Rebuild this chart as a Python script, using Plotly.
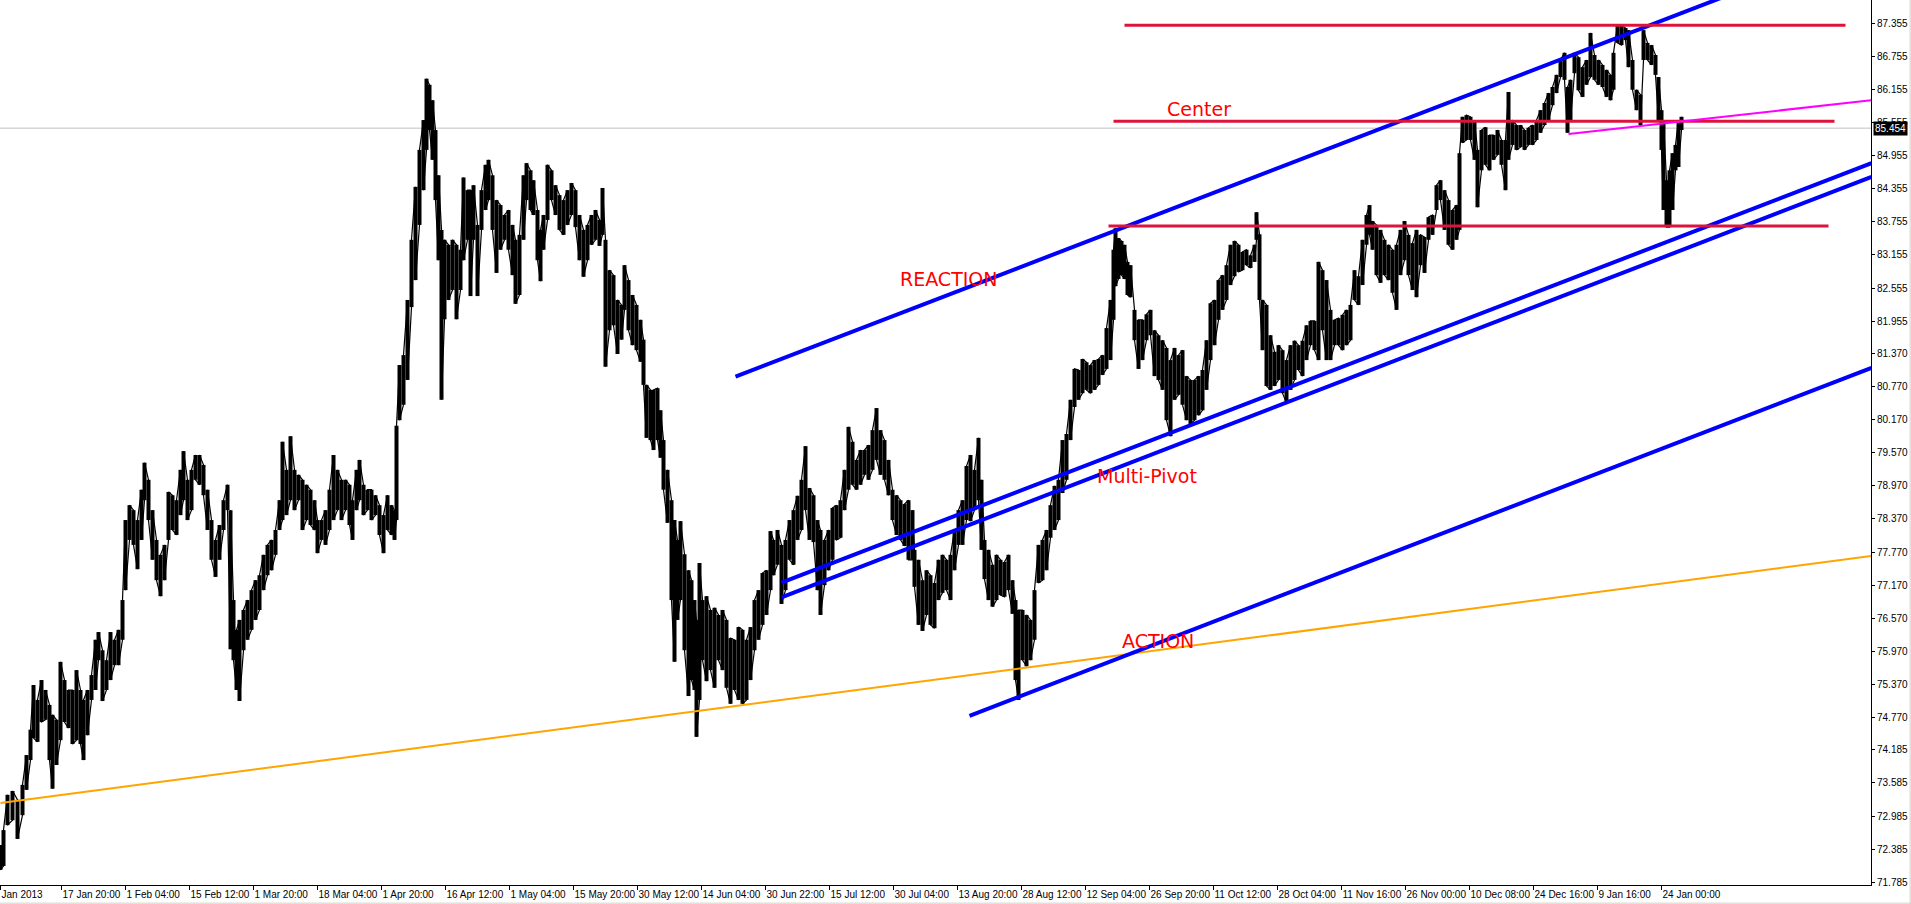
import plotly.graph_objects as go

# ---------------- data ----------------
bar_index = [0,3,7,12,17,22,26,30,33,37,41,45,49,52,56,60,64,68,72,76,
80,83,87,91,95,98,102,106,110,114,118,122,125,129,133,137,141,144,148,152,
156,160,164,168,172,176,180,183,187,191,195,199,203,207,211,215,219,223,227,230,
233,236,239,243,247,251,255,259,263,267,271,275,279,282,286,290,294,298,302,306,
310,314,317,321,325,329,333,337,341,345,349,352,356,359,363,367,371,375,379,383,
387,391,394,396,399,403,407,411,415,419,423,426,429,432,435,438,441,444,448,452,
456,460,463,467,470,473,477,481,485,488,492,496,500,504,508,512,515,519,523,526,
530,533,537,540,543,547,551,555,559,563,567,571,575,579,583,587,591,595,599,602,
605,609,613,617,621,624,628,632,636,640,643,646,650,653,657,660,663,667,671,674,
677,680,684,688,691,694,696,699,702,706,710,714,718,722,726,730,734,738,742,746,
750,754,758,762,766,770,773,777,781,785,789,793,797,801,805,809,813,817,820,824,
828,832,836,840,844,848,852,856,860,864,868,872,876,880,884,888,892,896,900,904,
908,912,914,918,922,926,930,934,938,942,946,950,954,958,962,966,970,974,978,981,
984,988,992,996,1000,1004,1008,1012,1015,1018,1022,1026,1030,1034,1038,1042,1046,1050,1054,1058,
1062,1066,1070,1074,1078,1082,1086,1090,1094,1098,1102,1106,1110,1113,1115,1118,1121,1124,1127,1130,
1134,1138,1142,1146,1150,1154,1158,1162,1166,1170,1174,1178,1182,1186,1190,1194,1198,1202,1206,1210,
1214,1218,1222,1226,1230,1234,1238,1242,1246,1250,1254,1256,1259,1262,1266,1270,1274,1278,1282,1286,
1290,1294,1298,1302,1306,1310,1314,1318,1322,1326,1330,1334,1338,1342,1346,1350,1354,1358,1362,1366,
1369,1372,1376,1380,1384,1388,1392,1396,1400,1404,1408,1412,1416,1420,1424,1428,1432,1436,1440,1444,
1448,1452,1456,1459,1462,1466,1470,1474,1477,1481,1485,1489,1493,1497,1501,1505,1508,1512,1516,1520,
1524,1528,1532,1536,1540,1544,1548,1552,1556,1560,1564,1567,1570,1574,1578,1582,1586,1590,1594,1598,
1602,1606,1610,1613,1617,1621,1625,1628,1632,1636,1640,1643,1647,1651,1655,1658,1661,1663,1666,1669,
1672,1675,1678,1681]

bar_high = [72.46,72.73,73.37,73.44,73.28,73.55,74.09,74.55,75.36,75.09,75.45,75.27,75.00,74.82,74.73,75.78,75.45,75.27,75.27,75.63,
75.27,75.09,75.27,75.54,76.18,76.32,75.99,75.81,76.32,76.18,76.36,76.90,78.35,78.62,78.53,78.35,78.90,79.39,79.08,78.53,
77.99,77.72,77.90,78.86,78.80,78.71,79.26,79.60,79.08,79.26,79.53,79.53,79.35,78.90,78.35,77.99,78.26,78.71,78.99,78.53,
76.90,76.36,76.54,76.72,76.90,77.08,77.26,77.35,77.72,77.90,77.99,78.17,78.71,79.77,79.26,79.87,79.26,79.17,79.08,78.99,
78.90,78.71,78.35,78.35,78.53,78.90,79.53,79.26,79.08,79.08,78.99,78.71,79.26,79.44,78.99,78.90,78.90,78.80,78.62,78.44,
78.80,78.62,78.53,80.06,81.16,81.34,82.34,83.43,84.39,85.06,85.60,86.35,86.24,85.96,85.42,84.60,83.61,83.43,83.34,83.43,
83.34,83.25,84.56,84.33,84.33,84.42,83.70,84.33,84.79,84.88,84.60,84.15,84.06,83.88,83.97,83.70,83.43,83.52,84.60,84.82,
84.69,84.51,83.97,83.61,83.88,84.79,84.69,84.42,84.24,84.15,84.33,84.46,84.33,83.88,83.61,83.70,83.88,83.97,83.79,84.37,
83.43,82.88,82.79,82.34,82.25,82.97,82.70,82.43,82.25,81.98,81.62,80.80,80.71,80.71,80.74,80.34,79.80,79.26,78.71,78.35,
77.99,78.33,77.73,77.44,77.26,76.90,76.54,77.57,76.90,76.97,76.72,76.76,76.63,76.72,76.54,76.21,76.18,76.41,76.36,76.18,
76.41,76.90,77.08,77.39,77.44,78.15,77.99,78.17,77.90,77.99,78.35,78.53,78.79,79.08,79.69,78.93,78.80,78.35,78.17,77.99,
78.17,78.57,78.62,78.71,79.26,80.04,79.77,79.44,79.62,79.62,79.71,79.98,80.38,79.98,79.80,79.44,78.90,78.80,78.71,78.64,
78.71,78.53,77.81,77.63,77.26,77.44,77.35,77.21,77.63,77.72,77.63,77.72,78.17,78.53,78.71,79.33,79.53,79.26,79.84,79.08,
77.99,77.81,77.54,77.72,77.63,77.59,77.72,77.26,76.90,76.72,76.72,76.63,76.54,77.08,77.90,77.99,78.17,78.62,78.97,79.08,
79.80,79.91,80.53,81.09,81.07,81.27,81.21,81.16,81.25,81.27,81.34,81.83,82.34,83.25,83.64,83.46,83.41,83.34,83.03,82.97,
82.16,81.98,81.98,82.08,82.16,81.79,81.70,81.61,81.47,81.25,81.47,81.34,81.43,80.96,80.89,80.89,80.96,81.07,81.61,82.28,
82.34,82.70,82.79,82.97,83.34,83.41,83.34,83.21,83.25,83.15,83.34,83.93,83.53,82.34,82.25,81.70,81.40,81.52,81.43,81.25,
81.52,81.60,81.52,81.60,81.88,81.96,81.96,83.03,82.88,82.70,82.16,81.98,82.01,82.07,82.16,82.25,82.88,82.77,83.43,83.88,
84.06,83.77,83.70,83.61,83.43,83.34,83.25,83.34,83.61,83.77,83.52,83.37,83.61,83.52,83.48,83.84,83.88,84.42,84.51,84.33,
84.15,83.97,84.06,85.00,85.66,85.69,85.66,85.60,85.06,85.42,85.47,85.33,85.33,85.42,85.24,85.24,86.11,85.60,85.51,85.51,
85.42,85.46,85.51,85.60,85.78,85.91,86.09,86.20,86.42,86.69,86.82,86.20,86.33,86.82,86.74,86.56,86.69,87.18,86.78,86.69,
86.60,86.51,86.42,86.82,87.32,87.32,87.27,87.23,86.69,86.15,86.06,87.23,87.00,86.96,86.78,86.38,85.78,85.60,84.51,84.69,
85.00,85.15,85.60,85.66]

bar_low = [72.01,72.08,72.82,72.91,72.57,73.00,73.46,74.00,74.40,74.33,74.69,74.73,74.00,73.48,73.91,74.36,74.69,74.58,74.29,74.36,
74.29,74.00,74.45,75.09,75.27,75.81,75.07,75.27,75.45,75.72,75.72,76.18,77.08,77.99,77.90,77.46,77.99,78.71,78.35,77.63,
77.26,76.97,77.26,77.99,78.17,78.08,78.44,78.71,78.35,78.53,79.08,78.99,78.80,78.17,77.63,77.32,77.63,78.17,78.53,76.01,
75.81,75.27,75.07,75.99,76.18,76.36,76.54,76.72,77.08,77.35,77.44,77.72,78.17,78.35,78.44,78.71,78.53,78.71,78.17,78.35,
78.26,78.17,77.75,77.99,77.90,78.17,78.35,78.53,78.35,78.53,78.26,77.99,78.53,78.71,78.44,78.53,78.35,78.44,78.08,77.75,
78.17,78.08,77.99,78.35,80.16,80.44,80.89,82.21,82.70,83.70,84.33,85.06,85.42,84.88,84.15,83.06,80.53,81.99,82.34,82.52,
81.99,82.52,83.06,83.43,82.41,83.43,82.41,83.61,83.97,84.15,83.61,82.83,83.25,83.43,83.25,82.79,82.27,82.43,83.43,84.15,
83.97,83.88,83.06,82.68,83.25,83.79,84.15,83.88,83.61,83.52,83.70,83.88,83.66,83.06,82.76,83.06,83.34,83.43,83.32,83.52,
81.13,81.79,81.88,81.36,81.62,82.16,81.79,81.52,81.43,81.22,80.80,79.84,79.80,79.62,79.80,79.48,78.90,78.30,76.90,75.78,
76.54,76.90,75.99,75.16,75.45,75.27,74.42,75.09,75.81,75.43,75.63,75.31,75.81,75.63,75.31,75.02,75.27,75.09,75.02,75.09,
75.45,75.99,76.18,76.45,76.63,77.08,77.35,77.54,76.83,77.08,77.63,77.54,77.99,78.17,78.53,77.99,77.95,77.08,76.63,77.17,
77.44,77.63,77.99,78.03,78.53,78.90,78.99,78.90,78.99,79.17,79.08,79.26,79.44,79.17,79.08,78.80,78.35,78.08,77.99,77.88,
77.63,77.63,77.14,76.45,76.34,76.63,76.45,76.39,76.90,77.03,77.08,76.90,77.44,77.90,77.90,78.35,78.33,78.53,78.71,77.81,
77.28,76.90,76.78,76.90,76.99,76.96,77.08,76.65,75.45,75.09,75.81,75.70,75.81,76.18,77.21,77.26,77.44,78.03,78.17,78.35,
78.84,79.08,79.80,80.40,80.53,80.65,80.71,80.65,80.71,80.80,80.98,81.09,81.25,81.98,82.59,82.72,82.79,82.72,82.43,82.39,
81.61,81.09,81.25,81.61,81.70,80.96,80.89,80.71,80.16,79.87,80.53,80.62,80.44,80.16,80.09,80.16,80.25,80.34,80.71,81.25,
81.52,81.98,82.16,82.34,82.61,82.77,82.85,82.88,82.97,82.92,83.03,83.43,82.34,81.43,80.78,80.71,80.78,80.89,80.65,80.47,
80.71,80.89,81.07,80.96,81.25,81.52,81.43,81.25,81.79,81.25,81.25,81.52,81.52,81.43,81.52,81.61,82.34,82.25,82.61,83.34,
83.52,83.25,82.79,82.65,82.79,82.70,82.47,82.16,82.79,83.06,82.79,82.52,82.39,82.97,82.83,83.43,83.52,83.97,84.15,83.61,
83.34,83.25,83.43,83.61,85.19,85.24,85.24,84.88,84.02,84.69,84.79,84.69,84.88,84.97,84.79,84.33,84.88,85.15,85.06,85.11,
85.06,85.15,85.15,85.24,85.37,85.51,85.60,85.87,86.09,86.38,86.33,85.37,85.60,86.45,86.14,86.02,86.24,86.38,86.33,86.24,
86.20,86.02,85.96,86.15,87.00,86.96,87.05,86.56,86.15,85.78,85.51,86.69,86.69,86.60,86.42,85.60,85.06,83.97,83.66,83.66,
83.97,84.69,84.75,85.42]

assert len(bar_index) == len(bar_high) == len(bar_low)

last_price = 85.454

# drawn objects: (bar, price) anchor pairs
channel_upper_bars = [735, 1760];  channel_upper_prices = [80.95, 88.09]
pivot_a_bars = [781, 1871];        pivot_a_prices = [77.215, 84.82]
pivot_b_bars = [781, 1871];        pivot_b_prices = [76.95, 84.57]
channel_lower_bars = [969, 1871];  channel_lower_prices = [74.80, 81.11]
orange_bars = [0, 1871];           orange_prices = [73.22, 77.70]
magenta_bars = [1568, 1871];       magenta_prices = [85.35, 85.96]
red_levels = [87.32, 85.58, 83.68]
red_starts = [1124, 1113, 1108]
red_ends = [1845, 1834, 1828]

label_texts = ["Center", "REACTION", "Multi-Pivot", "ACTION"]
label_bars = [1198, 948, 1146, 1157]
label_prices = [85.80, 82.72, 79.15, 76.16]

tick_bars = [0, 61, 125, 189, 253, 317, 381, 445, 509, 573, 637, 701, 765, 829, 893,
             957, 1021, 1085, 1149, 1213, 1277, 1341, 1405, 1469, 1533, 1597, 1661]
tick_labels = ["Jan 2013", "17 Jan 20:00", "1 Feb 04:00", "15 Feb 12:00", "1 Mar 20:00",
               "18 Mar 04:00", "1 Apr 20:00", "16 Apr 12:00", "1 May 04:00", "15 May 20:00",
               "30 May 12:00", "14 Jun 04:00", "30 Jun 22:00", "15 Jul 12:00", "30 Jul 04:00",
               "13 Aug 20:00", "28 Aug 12:00", "12 Sep 04:00", "26 Sep 20:00", "11 Oct 12:00",
               "28 Oct 04:00", "11 Nov 16:00", "26 Nov 00:00", "10 Dec 08:00", "24 Dec 16:00",
               "9 Jan 16:00", "24 Jan 00:00"]

price_ticks = [87.355, 86.755, 86.155, 85.555, 84.955, 84.355, 83.755, 83.155, 82.555,
               81.955, 81.370, 80.770, 80.170, 79.570, 78.970, 78.370, 77.770, 77.170,
               76.570, 75.970, 75.370, 74.770, 74.185, 73.585, 72.985, 72.385, 71.785]
price_tick_text = ["%.3f" % v for v in price_ticks]

# ---------------- figure ----------------
AX_FONT = dict(family="Tahoma, Liberation Sans, Arial", size=10, color="black")
fig = go.Figure()

# bid line (behind price)
fig.add_trace(go.Scatter(x=[-1, 1872], y=[last_price, last_price], mode="lines",
                         line=dict(color="#C0C0C0", width=1), hoverinfo="skip"))

# price bars: one vertical high-low stroke per sampled bar
bx, by = [], []
for b, h, l in zip(bar_index, bar_high, bar_low):
    bx += [b, b, None]
    by += [h, l, None]
fig.add_trace(go.Scatter(x=bx, y=by, mode="lines", connectgaps=False,
                         line=dict(color="black", width=4), hoverinfo="skip"))
# thin path joining consecutive bars
zz_x, zz_y = [], []
for i, (b, h, l) in enumerate(zip(bar_index, bar_high, bar_low)):
    zz_x += [b, b]
    zz_y += [h, l] if i % 2 == 0 else [l, h]
fig.add_trace(go.Scatter(x=zz_x, y=zz_y, mode="lines",
                         line=dict(color="black", width=1.2), hoverinfo="skip"))

# objects
def seg(xs, ys, color, width):
    fig.add_trace(go.Scatter(x=xs, y=ys, mode="lines",
                             line=dict(color=color, width=width), hoverinfo="skip"))

seg(orange_bars, orange_prices, "#FFA500", 2)
seg(channel_upper_bars, channel_upper_prices, "#0000FF", 4)
seg(pivot_a_bars, pivot_a_prices, "#0000FF", 4)
seg(pivot_b_bars, pivot_b_prices, "#0000FF", 4)
seg(channel_lower_bars, channel_lower_prices, "#0000FF", 4)
for lvl, s, e in zip(red_levels, red_starts, red_ends):
    seg([s, e], [lvl, lvl], "#DC143C", 3)
seg(magenta_bars, magenta_prices, "#FF00FF", 2)

annotations = []
for t, lx, p in zip(label_texts, label_bars, label_prices):
    annotations.append(dict(x=lx, y=p, xref="x", yref="y", text=t, showarrow=False,
                            xanchor="center", yanchor="middle",
                            font=dict(family="DejaVu Sans", size=19, color="#FF0000")))
annotations.append(dict(x=1, y=last_price, xref="paper", yref="y", text="%.3f" % last_price,
                        showarrow=False, xanchor="left", yanchor="middle", xshift=2,
                        bgcolor="black", borderpad=1,
                        font=dict(family="Tahoma, Liberation Sans, Arial", size=10, color="white")))

fig.update_layout(
    width=1911, height=904,
    margin=dict(l=0, r=40, t=0, b=19, autoexpand=False),
    paper_bgcolor="white", plot_bgcolor="white",
    showlegend=False,
    annotations=annotations,
    shapes=[
        dict(type="line", xref="paper", yref="paper", x0=1.0209, x1=1.0209, y0=-0.03, y1=1,
             line=dict(color="#D4D0C8", width=1)),
        dict(type="line", xref="paper", yref="paper", x0=0, x1=1.03, y0=-0.0205, y1=-0.0205,
             line=dict(color="#D4D0C8", width=1)),
    ],
)
fig.update_xaxes(range=[-0.5, 1870.5], showgrid=False, zeroline=False,
                 showline=True, linecolor="black", linewidth=1,
                 ticks="outside", ticklen=4, tickcolor="black",
                 tickvals=tick_bars, ticktext=tick_labels, tickangle=0,
                 ticklabelposition="outside right", tickfont=AX_FONT, fixedrange=True)
fig.update_yaxes(range=[71.735, 87.777], side="right", showgrid=False, zeroline=False,
                 showline=True, linecolor="black", linewidth=1,
                 ticks="outside", ticklen=3, tickcolor="black",
                 tickvals=price_ticks, ticktext=price_tick_text,
                 tickfont=AX_FONT, fixedrange=True)

fig.write_html("out.html", config={"displayModeBar": False},
               post_script="document.body.style.margin='0';document.body.style.overflow='hidden';")
